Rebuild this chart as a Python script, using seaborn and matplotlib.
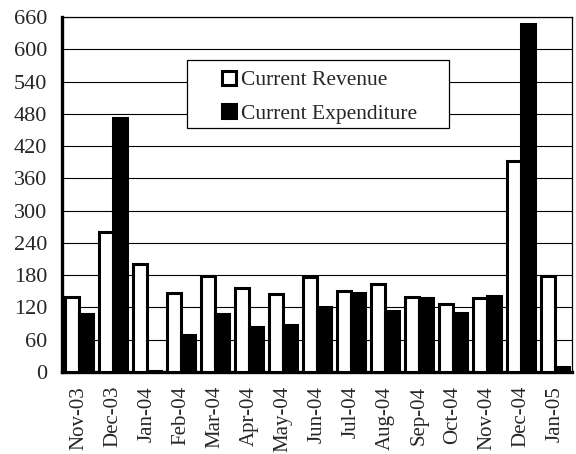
import matplotlib
matplotlib.use("Agg")
import matplotlib.pyplot as plt
import seaborn as sns
import pandas as pd
from matplotlib.patches import Rectangle
from matplotlib.ticker import FixedLocator, MultipleLocator

# data
months = ["Nov-03", "Dec-03", "Jan-04", "Feb-04", "Mar-04", "Apr-04", "May-04",
          "Jun-04", "Jul-04", "Aug-04", "Sep-04", "Oct-04", "Nov-04", "Dec-04", "Jan-05"]
revenue = [139, 260, 200, 147, 179, 156, 145, 177, 151, 164, 140, 127, 138, 392, 179]
expenditure = [108, 472, 2, 69, 108, 84, 87, 120, 146, 113, 137, 109, 141, 647, 10]
series_names = ["Current Revenue", "Current Expenditure"]

df = pd.DataFrame({
    "month": months * 2,
    "value": revenue + expenditure,
    "series": [series_names[0]] * len(months) + [series_names[1]] * len(months),
})

sns.set_style("white")
plt.rcParams["font.family"] = ["Liberation Serif", "DejaVu Serif"]
plt.rcParams["font.size"] = 16

fig = plt.figure(figsize=(5.76, 4.54), dpi=100)
ax = fig.add_axes([0.1076, 0.1806, 0.8854, 0.782])

sns.barplot(data=df, x="month", y="value", hue="series", palette=["white", "black"],
            edgecolor="black", linewidth=2.2, width=0.84, ax=ax, zorder=3)

ax.set_xlim(-0.5, len(months) - 0.5)
ax.set_ylim(0, 660)
ax.yaxis.set_major_locator(MultipleLocator(60))
ax.grid(axis="y", color="black", linewidth=0.8, zorder=0)
ax.set_axisbelow(True)
ax.set_xlabel("")
ax.set_ylabel("")

# tick marks between categories, labels under the categories
ax.xaxis.set_minor_locator(FixedLocator([i - 0.5 for i in range(len(months) + 1)]))
ax.tick_params(axis="x", which="major", length=0, rotation=90, labelsize=15, pad=10)
ax.tick_params(axis="x", which="minor", length=7, width=2, direction="out", color="black")
ax.tick_params(axis="y", which="major", length=6, width=2, direction="out",
               color="black", labelsize=16, pad=4.5)

for side in ["left", "bottom"]:
    ax.spines[side].set_linewidth(2.4)
    ax.spines[side].set_color("black")
for side in ["top", "right"]:
    ax.spines[side].set_linewidth(0.9)
    ax.spines[side].set_color("black")

# legend box is wider than its entries, so draw the frame separately
ax.add_patch(Rectangle((0.245, 0.687), 0.514, 0.192, transform=ax.transAxes,
                       facecolor="white", edgecolor="black", linewidth=0.9, zorder=4))
leg = ax.legend(loc="upper left", bbox_to_anchor=(0.291, 0.882), frameon=False,
                fontsize=15.5, handlelength=0.65, handleheight=0.65, handletextpad=0.2,
                labelspacing=0.62, borderpad=0.55, borderaxespad=0)
leg.set_zorder(5)

fig.savefig("out.png", dpi=100, facecolor="white")
